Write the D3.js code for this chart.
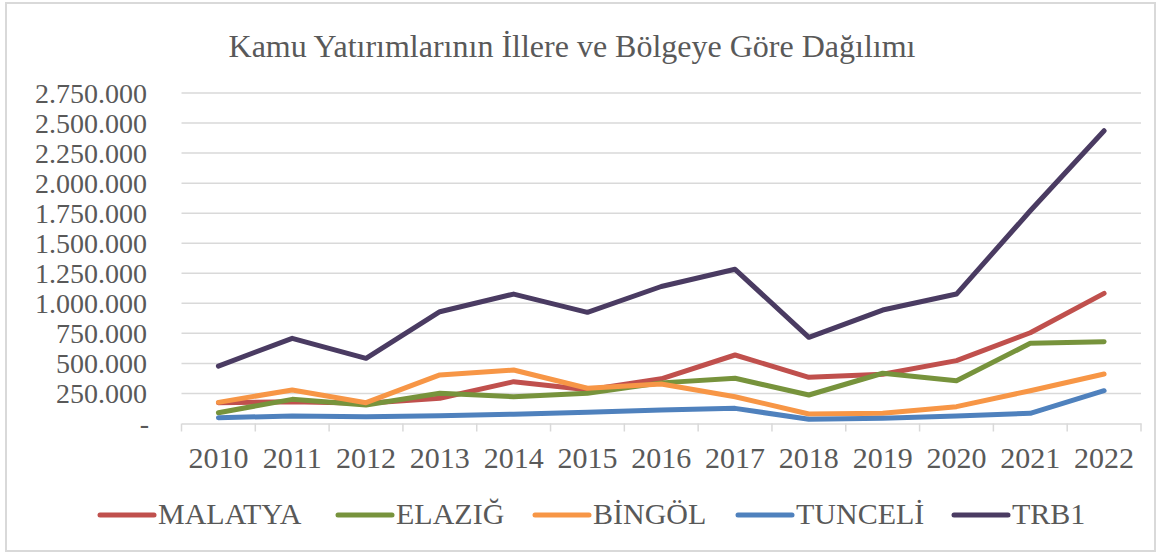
<!DOCTYPE html>
<html>
<head>
<meta charset="utf-8">
<script src="https://cdn.jsdelivr.net/npm/d3@7"></script>
<style>
  body { margin: 0; background: #fff; }
  text { font-family: "Liberation Serif", "Times New Roman", serif; fill: #595959; }
</style>
</head>
<body>
<div class="chart"></div>
<script>
// years and series values (TL)
const years = ['2010','2011','2012','2013','2014','2015','2016','2017','2018','2019','2020','2021','2022'];
const malatya = [173000, 181000, 168000, 210000, 348000, 280000, 372000, 570000, 384000, 410000, 523000, 755000, 1083000];
const elazig  = [90000, 201000, 154000, 251000, 223000, 251000, 338000, 376000, 237000, 418000, 356000, 667000, 681000];
const bingol  = [176000, 279000, 173000, 404000, 445000, 293000, 329000, 223000, 79000, 85000, 140000, 273000, 412000];
const tunceli = [48000, 62000, 57000, 65000, 77000, 93000, 112000, 126000, 35000, 43000, 62000, 85000, 273000];
const trb1    = [478000, 709000, 542000, 930000, 1077000, 925000, 1140000, 1283000, 717000, 944000, 1077000, 1770000, 2436000];
const seriesNames = ['MALATYA','ELAZIĞ','BİNGÖL','TUNCELİ','TRB1'];
const yTicks = [0,250000,500000,750000,1000000,1250000,1500000,1750000,2000000,2250000,2500000,2750000];

const colors = ['#C0504D','#77933C','#F79646','#4F81BD','#4A3B62'];
const allSeries = [malatya, elazig, bingol, tunceli, trb1];

const width = 1161, height = 554;
const svg = d3.select('.chart').append('svg')
    .attr('width', width)
    .attr('height', height);

// outer frame
svg.append('rect')
    .attr('x', 6).attr('y', 3)
    .attr('width', width - 12).attr('height', height - 6)
    .attr('fill', 'none')
    .attr('stroke', '#d9d9d9')
    .attr('stroke-width', 2);

svg.append('text')
    .attr('x', 572).attr('y', 57)
    .attr('text-anchor', 'middle')
    .style('font-size', '32px')
    .text('Kamu Yatırımlarının İllere ve Bölgeye Göre Dağılımı');

const plotLeft = 181.5, plotRight = 1141, plotTop = 93, plotBottom = 423.5;

var x = d3.scaleBand().domain(years).range([plotLeft, plotRight]);
var y = d3.scaleLinear().domain([0, 2750000]).range([plotBottom, plotTop]);

const tr = d3.formatLocale({decimal: ',', thousands: '.', grouping: [3], currency: ['', '']});
const fmt = v => v === 0 ? '-' : tr.format(',')(v);

// gridlines
svg.append('g')
    .selectAll('line')
    .data(yTicks.filter(d => d > 0))
    .enter()
    .append('line')
    .attr('x1', plotLeft).attr('x2', plotRight)
    .attr('y1', d => y(d)).attr('y2', d => y(d))
    .attr('stroke', '#d9d9d9')
    .attr('stroke-width', 1.5);

// y labels
svg.append('g')
    .selectAll('text')
    .data(yTicks)
    .enter()
    .append('text')
    .attr('x', d => d === 0 ? 149 : 147)
    .attr('y', d => y(d))
    .attr('dy', '0.35em')
    .attr('text-anchor', 'end')
    .style('font-size', '28px')
    .text(fmt);

// x axis
const xAxis = svg.append('g')
    .attr('transform', 'translate(0,' + plotBottom + ')')
    .call(d3.axisBottom(x).tickSize(0).tickFormat(d => d));
xAxis.select('.domain').attr('stroke', '#d9d9d9').attr('stroke-width', 1.5);
xAxis.selectAll('.tick text')
    .attr('y', 44)
    .attr('dy', 0)
    .style('font-size', '30px')
    .style('font-family', '"Liberation Serif", serif')
    .attr('fill', '#595959');

// tick marks between categories
svg.append('g')
    .selectAll('line')
    .data(years.concat(['end']))
    .enter()
    .append('line')
    .attr('x1', (d, i) => i < years.length ? x(d) : plotRight)
    .attr('x2', (d, i) => i < years.length ? x(d) : plotRight)
    .attr('y1', plotBottom).attr('y2', plotBottom + 8)
    .attr('stroke', '#d9d9d9')
    .attr('stroke-width', 1.5);

const line = d3.line()
    .x((d, i) => x(years[i]) + x.bandwidth() / 2)
    .y(d => y(d));

svg.append('g')
    .selectAll('path')
    .data(allSeries)
    .enter()
    .append('path')
    .attr('d', line)
    .attr('fill', 'none')
    .attr('stroke', (d, i) => colors[i])
    .attr('stroke-width', 5)
    .attr('stroke-linecap', 'round')
    .attr('stroke-linejoin', 'round');

// legend
const legendX = [100, 338, 535, 738, 954];
const lg = svg.append('g')
    .selectAll('g')
    .data(seriesNames)
    .enter()
    .append('g')
    .attr('transform', (d, i) => 'translate(' + legendX[i] + ',515)');
lg.append('line')
    .attr('x1', 0).attr('x2', 54)
    .attr('stroke', (d, i) => colors[i])
    .attr('stroke-width', 5)
    .attr('stroke-linecap', 'round');
lg.append('text')
    .attr('x', 58)
    .attr('y', 9)
    .style('font-size', '30px')
    .text(d => d);
</script>
</body>
</html>
